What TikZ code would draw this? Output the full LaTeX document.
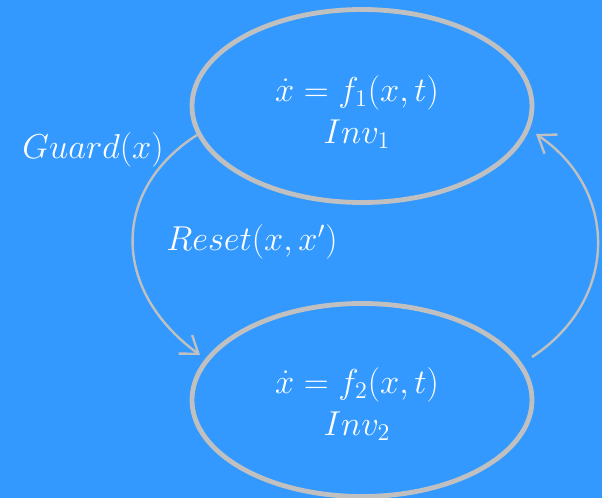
\documentclass[tikz,border=0pt]{standalone}
\usetikzlibrary{shapes.geometric,arrows.meta,calc}
\definecolor{bg}{HTML}{3399FF}
\definecolor{edge}{HTML}{C0C0C0}
\begin{document}
\begin{tikzpicture}[x=0.5pt,y=-0.5pt,
  state/.style={ellipse,draw=edge,line width=2.4pt,minimum width=170pt,minimum height=96.5pt,inner sep=0pt},
  lbl/.style={text=white,align=center,font=\fontsize{18.5}{21}\selectfont},
  conn/.style={draw=edge,line width=1.2pt,-{Straight Barb[length=8pt,width=11.5pt,line width=1.2pt]}}]
\fill[bg] (0,0) rectangle (602,498);
\useasboundingbox (0,0) rectangle (602,498);
\node[state] (top) at (362,106) {};
\node[state] (bot) at (362,400) {};
\node[lbl] (toptext) at (357,112) {$\dot{x}=f_1(x,t)$\\ $Inv_1$};
\node[lbl] (bottext) at (357,404) {$\dot{x}=f_2(x,t)$\\ $Inv_2$};
\node[lbl] (guard) at (93,150) {$Guard(x)$};
\node[lbl] (reset) at (252,242) {$Reset(x,x')$};
\coordinate (la) at ($(top.center)+(-165,29)$);
\coordinate (lb) at ($(bot.center)+(-162,-45)$);
\coordinate (ra) at ($(bot.center)+(170,-43)$);
\coordinate (rb) at ($(top.center)+(174,28)$);
\draw[conn] (la) .. controls (111,190) and (111,290) .. (lb);
\draw[conn] (ra) .. controls (619,300) and (619,190) .. (rb);
\end{tikzpicture}
\end{document}
